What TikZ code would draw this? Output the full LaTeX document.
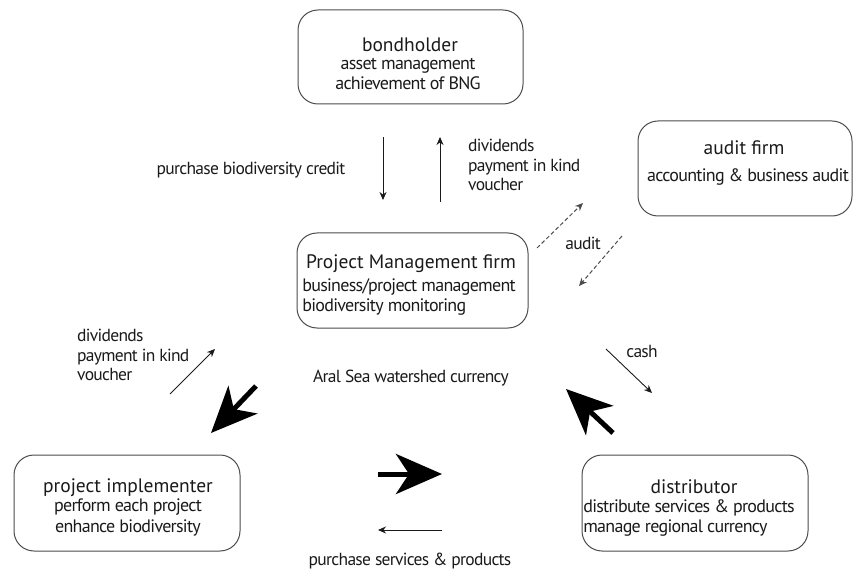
\documentclass[tikz,border=0pt]{standalone}
\usepackage{fontspec}
\setmainfont{PT Sans}
\newfontfamily\tightfont[LetterSpace=-4]{PT Sans}
\usetikzlibrary{arrows.meta}
\definecolor{ink}{HTML}{1A1A1A}
\begin{document}
\begin{tikzpicture}[x=1pt,y=-1pt,
  box/.style={draw=black!70, line width=1pt, rounded corners=20pt, inner sep=0pt},
  ttl/.style={text=ink, inner sep=0pt, font=\fontsize{19.5}{22}\selectfont},
  sub/.style={text=ink, inner sep=0pt, align=center, font=\tightfont\fontsize{18}{20.5}\selectfont},
  lbl/.style={text=ink, inner sep=0pt, align=left, font=\tightfont\fontsize{17.5}{19.5}\selectfont},
  tharr/.style={draw=ink, line width=0.9pt, -{Stealth[length=8pt,width=7pt]}},
  dsharr/.style={draw=black!70, line width=1pt, dash pattern=on 4pt off 2.5pt, -{Stealth[length=8pt,width=7pt]}},
  bigarr/.style={draw=black, line width=5pt, -{Stealth[length=46pt,width=40pt,inset=13pt]}}
]
\useasboundingbox (0,0) rectangle (854,577);
% boxes
\node[box, minimum width=225pt, minimum height=94pt] (bh) at (410.5,57) {};
\node[box, minimum width=214pt, minimum height=95pt] (au) at (745,168.5) {};
\node[box, minimum width=231pt, minimum height=95pt] (pm) at (412.5,280.5) {};
\node[box, minimum width=226pt, minimum height=96pt] (pi) at (127,503) {};
\node[box, minimum width=226pt, minimum height=96pt] (di) at (695,503) {};
% box texts
\node[ttl] (bht) at (410,45) {bondholder};
\node[sub, anchor=north] (bhs) at (408,58) {asset management\\achievement of BNG};
\node[ttl] (aut) at (744,148) {audit firm};
\node[sub] (aus) at (748,177) {accounting \& business audit};
\node[ttl] (pmt) at (411,264) {Project Management firm};
\node[sub, anchor=north, align=left] (pms) at (409,278) {business/project management\\biodiversity monitoring};
\node[ttl] (pit) at (128,488) {project implementer};
\node[sub, anchor=north] (pis) at (128,499) {perform each project\\enhance biodiversity};
\node[ttl] (dit) at (694,487) {distributor};
\node[sub, anchor=north, align=left] (dis) at (689,499) {distribute services \& products\\manage regional currency};
% free labels
\node[lbl] (l1) at (251,170) {purchase biodiversity credit};
\node[lbl, anchor=north west] (l2) at (468,139) {dividends\\payment in kind\\voucher};
\node[lbl] (l3) at (583,243) {audit};
\node[lbl, anchor=north west] (l4) at (77,329) {dividends\\payment in kind\\voucher};
\node[lbl] (l5) at (411,378) {Aral Sea watershed currency};
\node[lbl] (l6) at (642,351) {cash};
\node[lbl] (l7) at (410,561) {purchase services \& products};
% thin arrows
\coordinate (a1s) at (383,137); \coordinate (a1e) at (383,200);
\coordinate (a2s) at (440,202); \coordinate (a2e) at (440,137);
\draw[tharr] (a1s) -- (a1e);
\draw[tharr] (a2s) -- (a2e);
\coordinate (d1s) at (537,248); \coordinate (d1e) at (583,203);
\coordinate (d2s) at (622,236); \coordinate (d2e) at (579,286);
\draw[dsharr] (d1s) -- (d1e);
\draw[dsharr] (d2s) -- (d2e);
\coordinate (c1s) at (170,394); \coordinate (c1e) at (215,349);
\draw[tharr] (c1s) -- (c1e);
\coordinate (c2s) at (606,349); \coordinate (c2e) at (652,393);
\draw[tharr] (c2s) -- (c2e);
\coordinate (c3s) at (442,530); \coordinate (c3e) at (378,530);
\draw[tharr] (c3s) -- (c3e);
% big arrows
\coordinate (b1s) at (256,386); \coordinate (b1e) at (211,433);
\draw[bigarr] (b1s) -- (b1e);
\coordinate (b2s) at (613,433); \coordinate (b2e) at (566,389);
\draw[bigarr] (b2s) -- (b2e);
\coordinate (b3s) at (378,474); \coordinate (b3e) at (442,474);
\draw[bigarr] (b3s) -- (b3e);
\end{tikzpicture}
\end{document}
